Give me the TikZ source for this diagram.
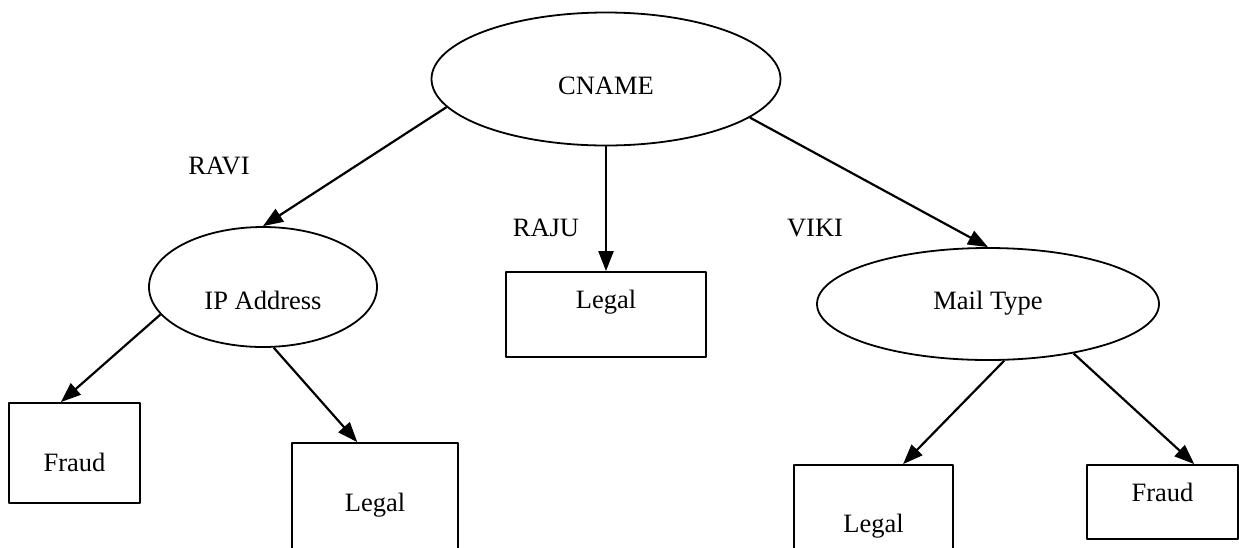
\documentclass[tikz,border=0pt]{standalone}
\usepackage{fontspec}
\setmainfont{Liberation Serif}
\usetikzlibrary{%
  arrows.meta,% Triangle tips
  shapes.geometric% ellipse
}

\begin{document}
\begin{tikzpicture}[
    x=1pt,y=-1pt,
    >={Triangle[length=20pt,width=15pt]},
    line join=round,
    font=\fontsize{26.5}{30}\selectfont,
    attribute/.style={ellipse,draw,line width=1.8pt,inner sep=0pt},
    leaf/.style={rectangle,draw,line width=1.8pt,inner sep=0pt},
    value/.style={inner sep=0pt},
    edge/.style={->,line width=2.2pt}
  ]
    \useasboundingbox (0,0) rectangle (1239,547);
    \clip (0,0) rectangle (1239,547);

    % attributes
    \node [attribute,minimum width=349pt,minimum height=133pt,
        text height=36pt,text depth=6pt] (cname) at (606,79) {CNAME};
    \node [attribute,minimum width=228pt,minimum height=120pt,
        text height=50pt,text depth=6pt] (ip) at (263,287) {IP Address};
    \node [attribute,minimum width=342pt,minimum height=112pt,
        text height=20pt,text depth=10pt] (mail) at (988,304) {Mail Type};

    % leaves
    \node [leaf,minimum width=200pt,text height=36pt,text depth=49pt]
        (legalM) at (606,314.5) {Legal};
    \node [leaf,minimum width=131pt,text height=68pt,text depth=32pt]
        (fraudL) at (74.5,453) {Fraud};
    \node [leaf,minimum width=166pt,text height=68pt,text depth=54pt]
        (legalL) at (375,504) {Legal};
    \node [leaf,minimum width=159pt,text height=67pt,text depth=38pt]
        (legalR) at (873.5,517.5) {Legal};
    \node [leaf,minimum width=151pt,text height=36pt,text depth=38pt]
        (fraudR) at (1162.5,502) {Fraud};

    % branch values
    \node [value] (ravi) at (219,166) {RAVI};
    \node [value] (raju) at (546,228) {RAJU};
    \node [value] (viki) at (815,228) {VIKI};

    \draw [edge] (cname.190) -- (ip.north);
    \draw [edge] (cname.south) -- (legalM.north);
    \draw [edge] (cname.345) -- (mail.north);
    \draw [edge] (ip.195) -- (fraudL.105);
    \draw [edge] (ip.280) -- (legalL.106);
    \draw [edge] (mail.286) -- (legalR.61);
    \draw [edge] (mail.330) -- (fraudR.50);
\end{tikzpicture}
\end{document}
